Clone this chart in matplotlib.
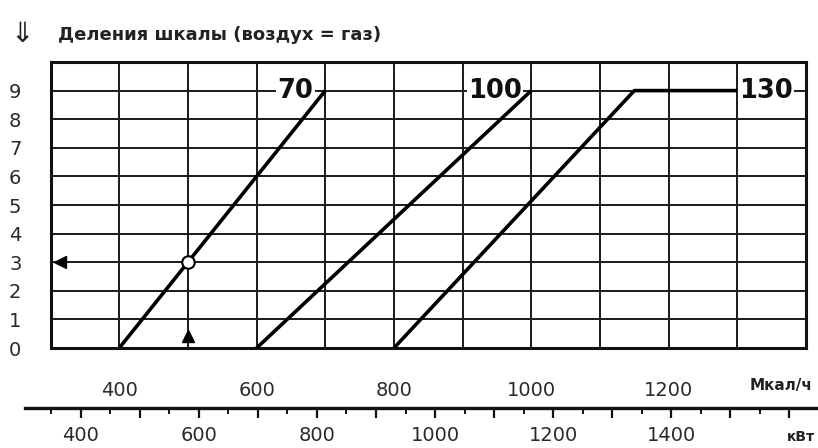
import matplotlib
matplotlib.use("Agg")
import matplotlib.pyplot as plt
from matplotlib.ticker import FixedLocator, FuncFormatter
import numpy as np

# Данные диаграммы
mcal_min, mcal_max = 300, 1400
div_min, div_max = 0, 10
mcal_labels = [400, 600, 800, 1000, 1200]
div_labels = [0, 1, 2, 3, 4, 5, 6, 7, 8, 9]

line70_x = [400, 700]
line70_y = [0, 9]
line100_x = [600, 1000]
line100_y = [0, 9]
line130_x = [800, 1150, 1300]
line130_y = [0, 9, 9]

example_x = 500
example_y = 3

KW_PER_MCAL = 1.163
kw_labels = [400, 600, 800, 1000, 1200, 1400]
kw_start = 300

W, H = 818, 448
fig = plt.figure(figsize=(W / 100, H / 100), dpi=100)

# пиксели рамки основной сетки
px_left, px_right, px_top, px_bottom = 50.6, 806, 62, 348
ax = fig.add_axes([px_left / W, 1 - px_bottom / H,
                   (px_right - px_left) / W, (px_bottom - px_top) / H])
ax.set_xlim(mcal_min, mcal_max)
ax.set_ylim(div_min, div_max)

grid_col = '#1a1a1a'
for x in np.arange(mcal_min + 100, mcal_max, 100):
    ax.axvline(x, color=grid_col, lw=1.4, zorder=1)
for y in np.arange(div_min + 1, div_max, 1):
    ax.axhline(y, color=grid_col, lw=1.4, zorder=1)
for s in ax.spines.values():
    s.set_linewidth(2.2)
    s.set_color('#111111')

ax.set_xticks(mcal_labels)
ax.set_yticks(div_labels)
ax.tick_params(axis='both', length=0, labelsize=14, labelcolor='#2a2a2a')
ax.tick_params(axis='x', pad=24)
ax.tick_params(axis='y', pad=21)

# кривые
for xs, ys in [(line70_x, line70_y), (line100_x, line100_y), (line130_x, line130_y)]:
    ax.plot(xs, ys, color='black', lw=2.6, solid_capstyle='butt', zorder=4)

txt_kw = dict(fontsize=18.5, fontweight='bold', color='#111111', va='center', zorder=3,
              bbox=dict(boxstyle='square,pad=0.05', fc='white', ec='none'))
ax.text(683, 9, '70', ha='right', **txt_kw)
ax.text(986, 9, '100', ha='right', **txt_kw)
ax.text(1303, 9, '130', ha='left', **txt_kw)

# пример
ax.plot(example_x, example_y, 'o', ms=9, mfc='white', mec='black', mew=1.5, zorder=5)
ax.plot(example_x, 0.42, '^', ms=9, color='black', zorder=5)
ax.plot(314, example_y, '<', ms=9, color='black', zorder=5, clip_on=False)

# заголовок
fig.text(10 / W, 1 - 34 / H, '\u21d3', fontsize=20, va='center', ha='left', color='#222222')
fig.text(58 / W, 1 - 35 / H, 'Деления шкалы (воздух = газ)', fontsize=13,
         fontweight='bold', va='center', ha='left', color='#222222')
fig.text(781 / W, 1 - 385 / H, 'Мкал/ч', fontsize=11, fontweight='bold',
         va='center', ha='center', color='#222222')

# шкала кВт
px_kw_left, px_kw_y = 25, 408
mcal_per_px = (mcal_max - mcal_min) / (px_right - px_left)


def px_to_kw(px):
    return KW_PER_MCAL * (mcal_min + (px - px_left) * mcal_per_px)


axk = fig.add_axes([px_kw_left / W, 1 - px_kw_y / H, 1 - px_kw_left / W, 0.0001])
axk.set_xlim(px_to_kw(px_kw_left), px_to_kw(W))
axk.set_yticks([])
for side in ['top', 'left', 'right']:
    axk.spines[side].set_visible(False)
axk.spines['bottom'].set_linewidth(2.4)
axk.spines['bottom'].set_color('#111111')
axk.xaxis.set_major_locator(FixedLocator(np.arange(kw_start, 1700, 100)))
axk.xaxis.set_minor_locator(FixedLocator(np.arange(kw_start + 50, 1700, 100)))
axk.xaxis.set_major_formatter(FuncFormatter(lambda v, p: f'{int(v)}' if int(v) in kw_labels else ''))
axk.tick_params(axis='x', which='major', length=7, width=1.6, color='#111111',
                labelsize=14, labelcolor='#2a2a2a', pad=6)
axk.tick_params(axis='x', which='minor', length=4, width=1.4, color='#111111')
fig.text(815 / W, 1 - 437 / H, 'кВт', fontsize=10, fontweight='bold',
         va='center', ha='right', color='#222222')

fig.savefig('out.png', dpi=100)
